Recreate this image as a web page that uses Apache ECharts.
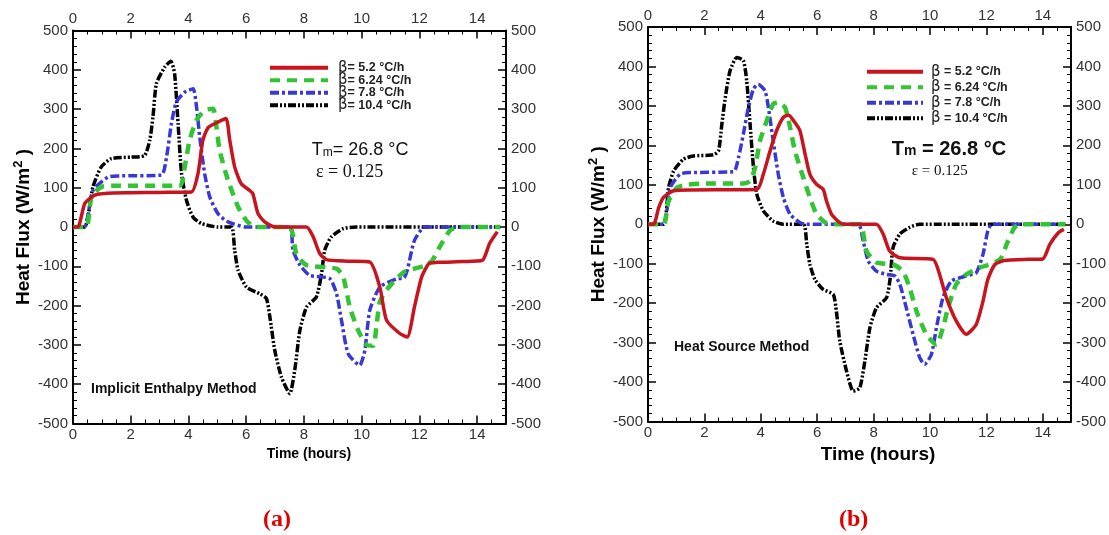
<!DOCTYPE html>
<html><head><meta charset="utf-8">
<script src="https://cdn.jsdelivr.net/npm/echarts@6/dist/echarts.min.js"></script>
<style>html,body{margin:0;padding:0;background:#fff}#c{width:1109px;height:535px}</style>
</head><body><div id="c"></div>
<script>
// ---------- data (time in hours, heat flux in W/m2) ----------
const seriesNames = ['β= 5.2 °C/h', 'β= 6.24 °C/h', 'β= 7.8 °C/h', 'β= 10.4 °C/h'];
const legendValues = ['5.2', '6.24', '7.8', '10.4'];
const panelLabels = ['(a)', '(b)'];
const methodLabels = ['Implicit Enthalpy Method', 'Heat Source Method'];

// Panel (a): Implicit Enthalpy Method
const enthalpyB52 = [[0,0],[0.17,0],[0.41,60],[0.75,81],[1.2,86],[2,87],[3,88],[4.1,89],[4.33,136],[4.5,221],[4.68,253],[5.0,266],[5.3,276],[5.43,221],[5.6,153],[5.83,110],[6.12,93],[6.23,85],[6.41,34],[6.64,13],[7.0,0],[8.09,0],[8.32,-25],[8.55,-68],[8.78,-83],[9.5,-87],[10.28,-89],[10.63,-153],[10.86,-237],[11.32,-271],[11.58,-280],[11.83,-203],[12.08,-127],[12.33,-93],[12.6,-90],[13.5,-88],[14.18,-85],[14.43,-42],[14.7,-12]];
const enthalpyB624 = [[0,0],[0.46,0],[0.64,76],[0.98,102],[1.5,105],[3.7,105],[3.87,153],[4.04,221],[4.28,272],[4.56,297],[4.85,301],[4.97,254],[5.08,195],[5.37,119],[5.72,51],[6.0,17],[6.3,0],[7.5,0],[7.74,-68],[8.09,-97],[9.13,-106],[9.36,-127],[9.59,-204],[9.88,-263],[10.17,-300],[10.4,-302],[10.51,-254],[10.63,-190],[10.86,-160],[11.46,-115],[12.2,-98],[12.45,-85],[12.7,-51],[13.07,-8],[13.4,0],[14.8,0]];
const enthalpyB78 = [[0,0],[0.4,0],[0.69,93],[1.21,127],[1.6,130],[3.06,132],[3.24,178],[3.41,263],[3.58,318],[3.87,343],[4.16,352],[4.28,305],[4.39,229],[4.56,136],[4.74,76],[5.02,34],[5.37,13],[6.0,0],[7.5,0],[7.62,-59],[7.86,-97],[8.2,-123],[8.89,-131],[9.13,-170],[9.3,-237],[9.53,-322],[9.93,-352],[10.11,-314],[10.28,-212],[10.63,-153],[11.2,-132],[11.46,-130],[11.58,-110],[11.83,-34],[12.2,0],[14.8,0]];
const enthalpyB104 = [[0,0],[0.4,0],[0.69,102],[0.98,153],[1.33,174],[2.02,178],[2.48,182],[2.66,221],[2.77,280],[2.89,365],[3.18,407],[3.39,422],[3.52,390],[3.64,263],[3.76,136],[3.93,68],[4.16,25],[4.45,9],[5.02,0],[5.49,0],[5.6,-59],[5.72,-110],[6.01,-153],[6.47,-170],[6.7,-182],[6.82,-229],[6.99,-314],[7.22,-382],[7.51,-424],[7.68,-365],[7.86,-263],[8.09,-204],[8.43,-178],[8.61,-119],[8.72,-59],[8.95,-25],[9.36,-4],[9.82,0],[14.8,0]];

// Panel (b): Heat Source Method
const sourceB52 = [[0,0],[0.2,0],[0.38,42],[0.55,68],[0.91,85],[1.5,87],[3.86,88],[4.09,127],[4.33,186],[4.56,237],[4.8,271],[4.98,277],[5.21,258],[5.39,237],[5.57,178],[5.74,127],[5.98,101],[6.21,89],[6.33,59],[6.51,25],[6.8,4],[7.0,0],[8.1,0],[8.34,-25],[8.57,-68],[8.93,-85],[10.11,-89],[10.34,-127],[10.58,-186],[10.93,-245],[11.29,-279],[11.64,-254],[11.88,-195],[12.05,-140],[12.3,-102],[12.64,-92],[13.5,-89],[14.0,-88],[14.25,-51],[14.56,-21],[14.75,-13]];
const sourceB624 = [[0,0],[0.55,0],[0.73,59],[1.03,93],[1.38,100],[2,103],[3.38,103],[3.62,110],[3.8,144],[3.97,211],[4.21,262],[4.44,305],[4.62,309],[4.86,296],[5.04,245],[5.21,186],[5.51,118],[5.74,68],[5.98,25],[6.33,2],[6.5,0],[7.51,0],[7.75,-68],[8.1,-97],[8.69,-102],[9.04,-119],[9.28,-161],[9.52,-220],[9.87,-279],[10.23,-305],[10.46,-262],[10.64,-212],[10.93,-152],[11.29,-127],[11.76,-110],[12.16,-101],[12.5,-88],[12.75,-45],[13.0,-8],[13.2,0],[14.8,0]];
const sourceB78 = [[0,0],[0.55,0],[0.79,93],[1.14,127],[1.5,131],[3.03,133],[3.21,169],[3.38,228],[3.56,296],[3.74,343],[3.91,355],[4.15,338],[4.27,296],[4.44,211],[4.62,127],[4.8,68],[5.04,25],[5.39,4],[5.6,0],[7.45,0],[7.63,-42],[7.81,-93],[8.1,-119],[8.46,-127],[8.75,-131],[8.93,-152],[9.16,-212],[9.4,-279],[9.64,-339],[9.81,-355],[10.05,-330],[10.23,-262],[10.46,-186],[10.76,-144],[11.29,-131],[11.64,-123],[11.88,-76],[12.05,-17],[12.2,0],[14.8,0]];
const sourceB104 = [[0,0],[0.55,0],[0.73,93],[0.91,135],[1.26,165],[1.61,173],[2.32,176],[2.5,186],[2.62,254],[2.74,321],[2.91,389],[3.15,423],[3.38,415],[3.5,364],[3.62,254],[3.74,144],[3.86,76],[4.09,34],[4.44,8],[4.8,0],[5.51,0],[5.63,-51],[5.74,-102],[5.92,-140],[6.21,-165],[6.57,-178],[6.68,-220],[6.8,-296],[7.04,-372],[7.28,-423],[7.51,-415],[7.69,-347],[7.87,-262],[8.1,-212],[8.46,-186],[8.59,-136],[8.69,-59],[8.93,-25],[9.28,-8],[9.63,0],[14.8,0]];

const panelData = [
  [enthalpyB52, enthalpyB624, enthalpyB78, enthalpyB104],
  [sourceB52, sourceB624, sourceB78, sourceB104]
];

// ---------- styles ----------
const lineStyles = [
  {color: '#c8141e', width: 3.5, type: 'solid'},
  {color: '#33c433', width: 4.5, type: [10, 7]},
  {color: '#3838d4', width: 3.5, type: [9, 3, 3, 3]},
  {color: '#000000', width: 3.5, type: [8, 2, 2, 2, 2, 2]}
];
const grids = [
  {left: 73, top: 30.5, width: 433, height: 393},
  {left: 648, top: 27, width: 424, height: 394.5}
];
const labelFont = {fontSize: 15, color: '#333', fontFamily: 'Liberation Sans'};

function xAx(g, pos, nameOpt) {
  const a = {
    type: 'value', gridIndex: g, position: pos, min: 0, max: 15, interval: 2,
    axisLine: {onZero: false, lineStyle: {color: '#000', width: 2}},
    axisTick: {inside: true, length: 8, lineStyle: {color: '#000', width: 1.5}},
    minorTick: {show: true, splitNumber: 4, length: 4, lineStyle: {color: '#000', width: 1}},
    splitLine: {show: false}, minorSplitLine: {show: false},
    axisLabel: Object.assign({margin: 4, formatter: v => v === 15 ? '' : String(v)}, labelFont)
  };
  if (nameOpt) Object.assign(a, nameOpt);
  return a;
}
function yAx(g, pos, nameOpt) {
  const a = {
    type: 'value', gridIndex: g, position: pos, min: -500, max: 500, interval: 100,
    axisLine: {onZero: false, lineStyle: {color: '#000', width: 2}},
    axisTick: {inside: true, length: 8, lineStyle: {color: '#000', width: 1.5}},
    minorTick: {show: true, splitNumber: 5, length: 4, lineStyle: {color: '#000', width: 1}},
    splitLine: {show: false}, minorSplitLine: {show: false},
    axisLabel: Object.assign({margin: 5}, labelFont)
  };
  if (nameOpt) Object.assign(a, nameOpt);
  return a;
}
const yName = {
  name: '{b|Heat Flux (W/m}{s|2}{b| )}', nameLocation: 'middle', nameGap: 38,
  nameTextStyle: {rich: {
    b: {fontSize: 19, fontWeight: 'bold', fontFamily: 'Liberation Sans', color: '#000'},
    s: {fontSize: 13, fontWeight: 'bold', fontFamily: 'Liberation Sans', color: '#000', padding: [0, 0, 10, 0]}
  }}
};

const series = [];
panelData.forEach((arrs, p) => {
  arrs.forEach((d, i) => {
    series.push({
      type: 'line', name: seriesNames[i], data: d,
      xAxisIndex: p * 2, yAxisIndex: p * 2,
      showSymbol: false, symbol: 'none', smooth: 0.2,
      lineStyle: lineStyles[i], itemStyle: {color: lineStyles[i].color},
      z: 5 + (3 - i)
    });
  });
});

function legendFor(p) {
  return {
    data: seriesNames, orient: 'vertical', padding: 0,
    left: p === 0 ? 268 : 865, top: p === 0 ? 60.2 : 64.2,
    itemWidth: p === 0 ? 58 : 56, itemHeight: 10, itemGap: p === 0 ? -2.5 : 0.5,
    selectedMode: false,
    lineStyle: {width: 4},
    itemStyle: {color: 'rgba(0,0,0,0)', borderColor: 'rgba(0,0,0,0)', borderWidth: 0},
    formatter: name => {
      const v = legendValues[seriesNames.indexOf(name)];
      return '{g|β}{t|' + (p === 0 ? '= ' : ' = ') + v + ' °C/h}';
    },
    textStyle: {rich: {
      g: {fontFamily: 'DejaVu Sans', fontSize: 15, color: '#222', padding: [0, 0, 0, p === 0 ? 5 : 3]},
      t: {fontFamily: 'Liberation Sans', fontWeight: 'bold', fontSize: 12.5, color: '#222'}
    }}
  };
}

const option = {
  animation: false,
  backgroundColor: '#fff',
  grid: grids,
  xAxis: [
    xAx(0, 'bottom', {name: 'Time (hours)', nameLocation: 'middle', nameGap: 11,
      nameTextStyle: {fontSize: 14, fontWeight: 'bold', fontFamily: 'Liberation Sans', color: '#000', padding: [0, 0, 0, 39]}}),
    xAx(0, 'top'),
    xAx(1, 'bottom', {name: 'Time (hours)', nameLocation: 'middle', nameGap: 14,
      nameTextStyle: {fontSize: 19, fontWeight: 'bold', fontFamily: 'Liberation Sans', color: '#000', padding: [0, 0, 0, 37]}}),
    xAx(1, 'top')
  ],
  yAxis: [
    yAx(0, 'left', yName), yAx(0, 'right'),
    yAx(1, 'left', yName), yAx(1, 'right')
  ],
  legend: [legendFor(0), legendFor(1)],
  graphic: [
    {type: 'text', left: 311.7, top: 141, style: {
      text: '{a|T}{m|m}{a|= 26.8 °C}',
      rich: {a: {fontSize: 18, fontFamily: 'Liberation Sans', fill: '#111'},
             m: {fontSize: 12, fontFamily: 'Liberation Sans', fill: '#111', padding: [6, 0, 0, 0]}}}},
    {type: 'text', left: 316, top: 163, style: {text: 'ε = 0.125', font: '18px "Liberation Serif"', fill: '#111'}},
    {type: 'text', left: 891.7, top: 139, style: {
      text: '{a|T}{m|m}{a| = 26.8 °C}',
      rich: {a: {fontSize: 20, fontWeight: 'bold', fontFamily: 'Liberation Sans', fill: '#111'},
             m: {fontSize: 14, fontWeight: 'bold', fontFamily: 'Liberation Sans', fill: '#111', padding: [5, 0, 0, 0]}}}},
    {type: 'text', left: 911.7, top: 164, style: {text: 'ε = 0.125', font: '15px "Liberation Serif"', fill: '#111'}},
    {type: 'text', left: 91, top: 382, style: {text: methodLabels[0], font: 'bold 14px "Liberation Sans"', fill: '#111'}},
    {type: 'text', left: 674, top: 340, style: {text: methodLabels[1], font: 'bold 14px "Liberation Sans"', fill: '#111'}},
    {type: 'text', left: 263, top: 508, style: {text: panelLabels[0], font: 'bold 24px "Liberation Serif"', fill: '#e00000'}},
    {type: 'text', left: 839, top: 508, style: {text: panelLabels[1], font: 'bold 24px "Liberation Serif"', fill: '#e00000'}}
  ],
  series: series
};
const chart = echarts.init(document.getElementById('c'), null, {renderer: 'canvas'});
chart.setOption(option);
</script></body></html>
